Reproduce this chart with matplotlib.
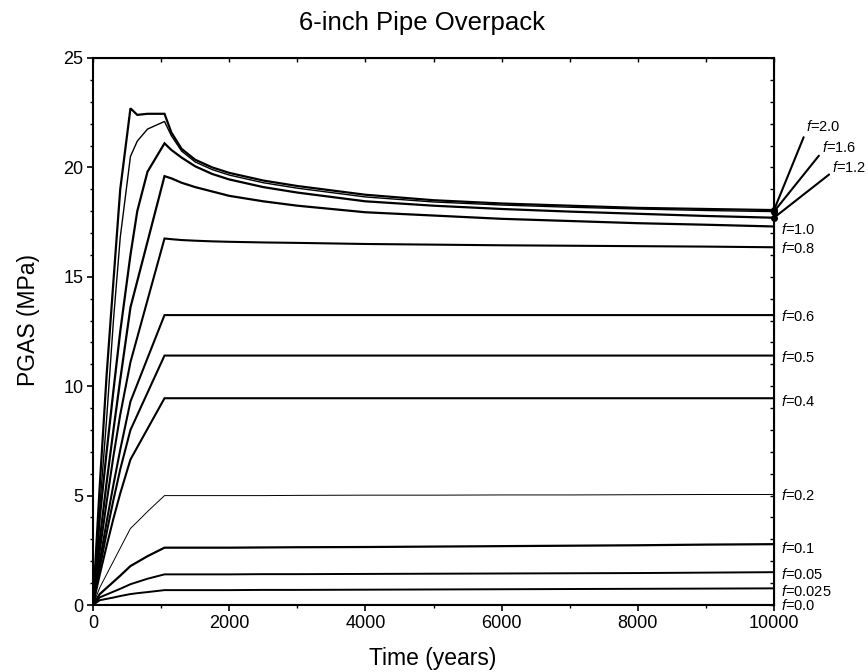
import matplotlib
matplotlib.use("Agg")
import matplotlib.pyplot as plt
from matplotlib.ticker import MultipleLocator

plt.rcParams['font.family'] = ['Liberation Sans', 'DejaVu Sans']
plt.rcParams['mathtext.fontset'] = 'custom'
plt.rcParams['mathtext.it'] = 'Liberation Sans:italic'
plt.rcParams['mathtext.rm'] = 'Liberation Sans'

# time points (years) shared by every curve
years = [0, 100, 200, 300, 400, 550, 650, 800, 1050, 1150, 1300, 1500, 1750,
         2000, 2500, 3000, 4000, 5000, 6000, 7000, 8000, 9000, 10000]

# PGAS (MPa) for each f value
p_f20 = [0, 5.5, 10.5, 14.8, 19.0, 22.7, 22.4, 22.45, 22.45, 21.6, 20.85, 20.35, 20.0,
         19.75, 19.4, 19.15, 18.75, 18.5, 18.35, 18.25, 18.15, 18.1, 18.05]
p_f16 = [0, 4.5, 8.5, 13.0, 16.8, 20.5, 21.2, 21.75, 22.1, 21.45, 20.75, 20.25, 19.9,
         19.65, 19.3, 19.05, 18.65, 18.42, 18.28, 18.18, 18.1, 18.03, 17.98]
p_f12 = [0, 4.0, 7.0, 9.8, 12.5, 16.0, 18.0, 19.8, 21.1, 20.8, 20.45, 20.05, 19.7,
         19.45, 19.1, 18.85, 18.45, 18.25, 18.1, 17.98, 17.88, 17.78, 17.7]
p_f10 = [0, 3.0, 5.6, 8.0, 10.3, 13.6, 14.8, 16.6, 19.6, 19.5, 19.3, 19.1, 18.9,
         18.7, 18.45, 18.25, 17.95, 17.8, 17.65, 17.55, 17.45, 17.38, 17.3]
p_f08 = [0, 2.5, 4.7, 6.8, 8.7, 11.1, 12.23, 13.93, 16.75, 16.72, 16.68, 16.65, 16.62,
         16.6, 16.57, 16.55, 16.5, 16.47, 16.44, 16.42, 16.4, 16.38, 16.35]
p_f06 = [0, 2.0, 3.8, 5.5, 7.1, 9.3, 10.09, 11.28, 13.25, 13.25, 13.25, 13.25, 13.25,
         13.25, 13.25, 13.25, 13.25, 13.25, 13.25, 13.25, 13.25, 13.25, 13.25]
p_f05 = [0, 1.7, 3.3, 4.8, 6.2, 8.0, 8.68, 9.7, 11.4, 11.4, 11.4, 11.4, 11.4,
         11.4, 11.4, 11.4, 11.4, 11.4, 11.4, 11.4, 11.4, 11.4, 11.4]
p_f04 = [0, 1.4, 2.7, 3.95, 5.1, 6.65, 7.21, 8.05, 9.45, 9.45, 9.45, 9.45, 9.45,
         9.45, 9.45, 9.45, 9.45, 9.45, 9.45, 9.45, 9.45, 9.45, 9.45]
p_f02 = [0, 0.8, 1.4, 2.0, 2.6, 3.5, 3.8, 4.27, 5.0, 5.0, 5.0, 5.0, 5.0,
         5.0, 5.0, 5.01, 5.02, 5.02, 5.03, 5.03, 5.04, 5.05, 5.05]
p_f01 = [0, 0.5, 0.78, 1.06, 1.34, 1.78, 1.96, 2.23, 2.62, 2.62, 2.62, 2.62, 2.62,
         2.62, 2.63, 2.64, 2.65, 2.67, 2.69, 2.71, 2.73, 2.76, 2.78]
p_f005 = [0, 0.35, 0.48, 0.61, 0.74, 0.95, 1.05, 1.2, 1.4, 1.4, 1.4, 1.4, 1.4,
          1.4, 1.41, 1.41, 1.42, 1.43, 1.44, 1.45, 1.46, 1.48, 1.5]
p_f0025 = [0, 0.22, 0.28, 0.34, 0.41, 0.5, 0.54, 0.59, 0.68, 0.68, 0.68, 0.68, 0.68,
           0.68, 0.69, 0.69, 0.7, 0.71, 0.72, 0.73, 0.74, 0.75, 0.76]
p_f00 = [0] * len(years)

# labels written at the right edge, and where they sit
edge_labels = ['1.0', '0.8', '0.6', '0.5', '0.4', '0.2', '0.1', '0.05', '0.025', '0.0']
edge_label_y = [17.15, 16.3, 13.2, 11.3, 9.3, 5.0, 2.6, 1.4, 0.62, 0.0]

# labels with leader lines (top three curves)
lead_labels = ['2.0', '1.6', '1.2']
lead_x = [10470, 10700, 10850]
lead_y = [21.85, 20.9, 19.98]

curves = [p_f20, p_f16, p_f12, p_f10, p_f08, p_f06, p_f05, p_f04,
          p_f02, p_f01, p_f005, p_f0025, p_f00]
widths = [1.6, 1.0, 1.6, 1.6, 1.5, 1.5, 1.5, 1.5, 0.7, 1.6, 1.4, 1.4, 2.2]

fig = plt.figure(figsize=(8.68, 6.72), dpi=100)
ax = fig.add_axes([93 / 868, 1 - 605 / 672, 681 / 868, 547 / 672])

for vals, lw in zip(curves, widths):
    ax.plot(years, vals, color='black', lw=lw, solid_joinstyle='miter')

ax.set_xlim(0, 10000)
ax.set_ylim(0, 25)
ax.set_xticks([0, 2000, 4000, 6000, 8000, 10000])
ax.set_yticks([0, 5, 10, 15, 20, 25])
ax.xaxis.set_minor_locator(MultipleLocator(1000))
ax.yaxis.set_minor_locator(MultipleLocator(1))
ax.tick_params(which='major', direction='out', length=4, width=1.2, labelsize=13, pad=3)
ax.tick_params(which='minor', direction='out', length=2.5, width=1.0)
for s in ax.spines.values():
    s.set_linewidth(1.5)

# top and right ticks point inward
top = ax.secondary_xaxis('top')
top.set_xticks([0, 2000, 4000, 6000, 8000, 10000])
top.set_xticklabels([])
top.xaxis.set_minor_locator(MultipleLocator(1000))
top.tick_params(which='both', direction='in', length=3, width=1.0)
right = ax.secondary_yaxis('right')
right.set_yticks([0, 5, 10, 15, 20, 25])
right.set_yticklabels([])
right.yaxis.set_minor_locator(MultipleLocator(1))
right.tick_params(which='both', direction='in', length=3, width=1.0)

for lab, yy in zip(edge_labels, edge_label_y):
    ax.annotate('$f$=' + lab, xy=(10000, yy), xytext=(5, 0), textcoords='offset points',
                ha='left', va='center', fontsize=10.5, annotation_clip=False)

lead_ends = [p_f20[-1], p_f16[-1], p_f12[-1]]
for lab, tx, ty, ey in zip(lead_labels, lead_x, lead_y, lead_ends):
    ax.annotate('$f$=' + lab, xy=(10000, ey), xytext=(tx, ty), textcoords='data',
                ha='left', va='center', fontsize=10.5, annotation_clip=False,
                arrowprops=dict(arrowstyle='-', lw=1.5, color='black',
                                shrinkA=0, shrinkB=0, relpos=(0.0, 0.2)))
ax.plot([10000] * 3, lead_ends, 'o', color='black', ms=4, clip_on=False)

fig.text(422 / 868, 1 - 23 / 672, '6-inch Pipe Overpack', ha='center', va='center', fontsize=18.5)
fig.text(433 / 868, 1 - 658 / 672, 'Time (years)', ha='center', va='center', fontsize=16.5)
fig.text(28 / 868, 1 - 320 / 672, 'PGAS (MPa)', ha='center', va='center', rotation=90, fontsize=16.5)

fig.savefig('out.png', dpi=100)
